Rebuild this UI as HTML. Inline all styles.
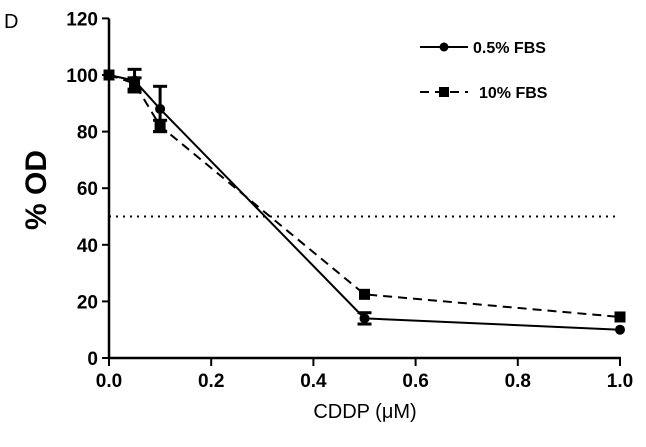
<!DOCTYPE html>
<html><head><meta charset="utf-8"><style>
body{margin:0;background:#fff;}
svg{display:block;font-family:"Liberation Sans",Arial,sans-serif;}
</style></head><body>
<svg id="chart" width="646" height="447">
<text x="4" y="28" font-size="20">D</text>
<text transform="translate(46,190) rotate(-90)" text-anchor="middle" font-size="30" font-weight="bold">% OD</text>
<text x="365" y="418" text-anchor="middle" font-size="20">CDDP (μM)</text>
<g id="axes"></g><g id="marks"></g>
<g>
<line x1="420" y1="47" x2="468" y2="47" stroke="#000" stroke-width="2"/>
<circle cx="444" cy="47" r="4.5" fill="#000"/>
<text x="473" y="53" font-size="16" font-weight="bold">0.5% FBS</text>
<line x1="420" y1="92" x2="468" y2="92" stroke="#000" stroke-width="2" stroke-dasharray="9,6"/>
<rect x="439" y="87" width="10" height="10" fill="#000"/>
<text x="479" y="98" font-size="16" font-weight="bold">10% FBS</text>
</g>
</svg>
<script>
const xVals=[0,0.05,0.1,0.5,1.0];
const lowFbs=[100,98,88,14,10];
const lowErr=[0,4,8,2,0];
const highFbs=[100,97,82,22.5,14.5];
const highErr=[0,2,2,0,0];
const xTicks=[0,0.2,0.4,0.6,0.8,1.0];
const yTicks=[0,20,40,60,80,100,120];
const refLine=50;
const NS="http://www.w3.org/2000/svg";
const X=v=>109+v*511, Y=v=>358-v*2.83;
const ax=document.getElementById('axes'), mk=document.getElementById('marks');
function el(t,a,p){const e=document.createElementNS(NS,t);for(const k in a)e.setAttribute(k,a[k]);p.appendChild(e);return e;}
let e=el('line',{x1:109,y1:Y(120),x2:109,y2:358,stroke:'#000','stroke-width':2.5},ax);


e=el('line',{x1:109,y1:358,x2:621,y2:358,stroke:'#000','stroke-width':2.5},ax);


yTicks.forEach(v=>{el('line',{x1:102,y1:Y(v),x2:109,y2:Y(v),stroke:'#000','stroke-width':2},ax);
 const t=el('text',{x:98,y:Y(v)+7,'text-anchor':'end','font-size':19,'font-weight':'bold'},ax);t.textContent=v;
 
 });
xTicks.forEach(v=>{el('line',{x1:X(v),y1:358,x2:X(v),y2:366,stroke:'#000','stroke-width':2},ax);
 const t=el('text',{x:X(v),y:387,'text-anchor':'middle','font-size':19,'font-weight':'bold'},ax);t.textContent=v.toFixed(1);
 
 });
e=el('line',{x1:X(0),y1:Y(refLine),x2:X(1),y2:Y(refLine),stroke:'#000','stroke-width':2,'stroke-dasharray':'2,5'},mk);


function series(vals,errs,dash,sq,name){
 const p=el('polyline',{points:xVals.map((x,i)=>X(x)+','+Y(vals[i])).join(' '),fill:'none',stroke:'#000','stroke-width':2,'stroke-dasharray':dash},mk);
 
 
 xVals.forEach((x,i)=>{
  if(errs[i]>0){el('line',{x1:X(x),y1:Y(vals[i]-errs[i]),x2:X(x),y2:Y(vals[i]+errs[i]),stroke:'#000','stroke-width':3},mk);
   [vals[i]-errs[i],vals[i]+errs[i]].forEach(v=>el('line',{x1:X(x)-7,y1:Y(v),x2:X(x)+7,y2:Y(v),stroke:'#000','stroke-width':3},mk));}
  const m=sq?el('rect',{x:X(x)-5.5,y:Y(vals[i])-5.5,width:11,height:11,fill:'#000'},mk):el('circle',{cx:X(x),cy:Y(vals[i]),r:5,fill:'#000'},mk);
  
  
 });
}
series(highFbs,highErr,'9,6',true,'10-fbs');
series(lowFbs,lowErr,'none',false,'0.5-fbs');
</script>
</body></html>
